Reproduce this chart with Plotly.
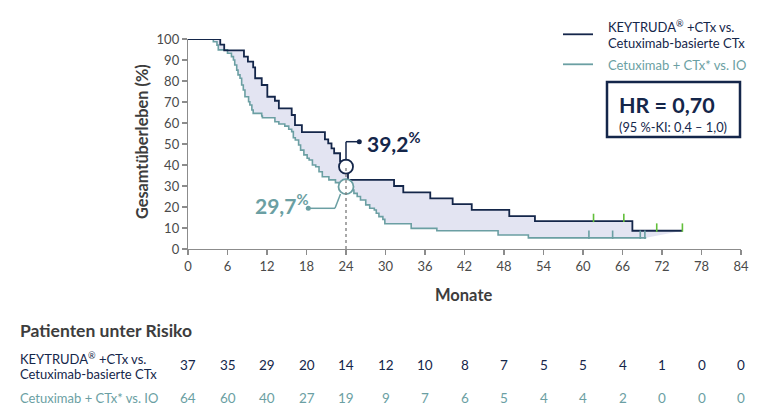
import numpy as np
import plotly.graph_objects as go

# ---------------- data ----------------
months_ticks = list(range(0, 85, 6))
surv_ticks = list(range(0, 101, 10))

keytruda_t = [0, 4.9, 5.5, 8.5, 9.1, 9.9, 10.2, 11.2, 12.05, 13.2, 13.8, 15.75, 16.25,
              17.3, 20.8, 21.3, 21.8, 22.2, 23.1, 23.8, 24.3, 31.3, 32.7, 36.8, 40.2,
              43.1, 48.8, 52.7, 67.5, 75.1]
keytruda_s = [100, 97.3, 94.6, 91.6, 89.2, 86.5, 81.3, 78.1, 72.5, 70.6, 67.0, 63.8, 59.0,
              55.7, 52.2, 50.3, 47.9, 45.6, 41.7, 39.2, 32.9, 30.0, 27.0, 24.1, 21.4,
              18.6, 15.7, 13.3, 8.7, 8.7]

cetux_t = [0, 3.85, 4.4, 4.6, 6.0, 6.6, 6.9, 7.1, 7.4, 7.6, 7.9, 8.15, 8.4, 8.65, 9.2,
           9.4, 9.7, 9.9, 11.2, 11.3, 13.2, 13.8, 14.7, 15.3, 15.75, 16.0, 16.3, 16.8,
           17.1, 17.6, 18.1, 18.4, 18.9, 19.4, 19.9, 20.4, 21.4, 22.4, 23.0, 23.6,
           24.7, 25.2, 25.7, 26.2, 27.0, 27.6, 28.3, 28.6, 29.0, 29.6, 29.9, 33.9,
           37.8, 47.1, 51.7, 69.6]
cetux_s = [100, 98.7, 97.1, 94.8, 93.2, 91.6, 90.0, 87.6, 85.2, 82.9, 81.3, 78.1, 75.7,
           72.5, 70.1, 68.6, 66.2, 64.6, 63.3, 62.5, 60.6, 59.5, 58.5, 57.0, 55.9, 53.0,
           51.9, 49.5, 47.1, 44.8, 43.2, 42.4, 40.0, 39.2, 36.8, 34.4, 32.9, 31.6, 31.0,
           29.7, 28.1, 26.5, 25.0, 23.3, 21.0, 19.4, 18.6, 17.0, 15.4, 14.1, 12.0, 9.8,
           8.7, 6.7, 5.3, 5.3]

keytruda_censor = [61.6, 66.2, 71.2, 75.1]
cetux_censor = [60.9, 64.5, 68.7, 69.4]

landmark_month = 24
keytruda_landmark = 39.2
cetux_landmark = 29.7

risk_keytruda = [37, 35, 29, 20, 14, 12, 10, 8, 7, 5, 5, 4, 1, 0, 0]
risk_cetux = [64, 60, 40, 27, 19, 9, 7, 6, 5, 4, 4, 2, 0, 0, 0]

hr_text = "HR = 0,70"
ci_text = "(95 %-KI: 0,4 – 1,0)"
label_keytruda = ["KEYTRUDA<sup>®</sup> +CTx vs.", "Cetuximab-basierte CTx"]
label_cetux = "Cetuximab + CTx* vs. IO"

# ---------------- style ----------------
NAVY = "#14264a"
TEAL = "#6b9fa3"
FILL = "rgba(226,227,241,0.95)"
GREEN = "#62bf3a"
AXIS = "#8c8c8c"
TXT = "#3d3d3d"
FONT = "Lato"

W, H = 767, 420
L, R, T, B = 188, 741, 39, 249


def px(x):
    return (x - L) / (R - L)


def py(y):
    return (B - y) / (B - T)


def dx(x):
    return (x - L) / (R - L) * 84


def dy(y):
    return (B - y) / (B - T) * 100


def step_at(ts, ss, t):
    i = np.searchsorted(np.array(ts), t, side="right") - 1
    return ss[max(i, 0)]


fig = go.Figure()

# teal curve (base of fill)
fig.add_trace(go.Scatter(x=cetux_t, y=cetux_s, mode="lines", line=dict(color=TEAL, width=1.6, shape="hv"),
                         cliponaxis=False, hoverinfo="skip"))
# navy curve with fill to teal
fig.add_trace(go.Scatter(x=keytruda_t, y=keytruda_s, mode="lines", fill="tonexty", fillcolor=FILL,
                         line=dict(color=NAVY, width=1.8, shape="hv"), cliponaxis=False, hoverinfo="skip"))

# censor marks
fig.add_trace(go.Scatter(x=keytruda_censor,
                         y=[step_at(keytruda_t, keytruda_s, c) + 1.5 for c in keytruda_censor],
                         mode="markers", marker=dict(symbol="line-ns", size=6, line=dict(color=GREEN, width=1.6)),
                         cliponaxis=False, hoverinfo="skip"))
fig.add_trace(go.Scatter(x=cetux_censor,
                         y=[step_at(cetux_t, cetux_s, c) + 1.5 for c in cetux_censor],
                         mode="markers", marker=dict(symbol="line-ns", size=6, line=dict(color=TEAL, width=1.6)),
                         cliponaxis=False, hoverinfo="skip"))

shapes = []
# dashed landmark line
shapes.append(dict(type="line", xref="x", yref="y", x0=landmark_month, x1=landmark_month, y0=0,
                   y1=keytruda_landmark, line=dict(color="#7a7a7a", width=1.3, dash="3px,3px"), layer="above"))
# navy leader
shapes.append(dict(type="line", xref="x", yref="y", x0=landmark_month, x1=landmark_month,
                   y0=keytruda_landmark + 3, y1=dy(141.7), line=dict(color=NAVY, width=1.5), layer="above"))
shapes.append(dict(type="line", xref="x", yref="y", x0=landmark_month, x1=dx(359.3),
                   y0=dy(141.7), y1=dy(141.7), line=dict(color=NAVY, width=1.5), layer="above"))
# teal leader
shapes.append(dict(type="line", xref="x", yref="y", x0=dx(340.5), x1=dx(335), y0=dy(194), y1=dy(208.3),
                   line=dict(color=TEAL, width=1.5), layer="above"))
shapes.append(dict(type="line", xref="x", yref="y", x0=dx(335), x1=dx(308.3), y0=dy(208.3), y1=dy(208.3),
                   line=dict(color=TEAL, width=1.5), layer="above"))

# legend lines
shapes.append(dict(type="line", xref="paper", yref="paper", x0=px(563), x1=px(593), y0=py(34.3), y1=py(34.3),
                   line=dict(color=NAVY, width=1.8)))
shapes.append(dict(type="line", xref="paper", yref="paper", x0=px(563), x1=px(593), y0=py(64.3), y1=py(64.3),
                   line=dict(color=TEAL, width=1.8)))
# HR box
shapes.append(dict(type="rect", xref="paper", yref="paper", x0=px(607), x1=px(740), y0=py(137), y1=py(82),
                   line=dict(color=NAVY, width=2.5), fillcolor="white"))

fig.update_layout(shapes=shapes)

# landmark circles + dots
fig.add_trace(go.Scatter(x=[landmark_month], y=[keytruda_landmark], mode="markers",
                         marker=dict(size=14, color="white", line=dict(color=NAVY, width=1.8)),
                         cliponaxis=False, hoverinfo="skip"))
fig.add_trace(go.Scatter(x=[landmark_month], y=[cetux_landmark], mode="markers",
                         marker=dict(size=15, color="white", line=dict(color=TEAL, width=1.8)),
                         cliponaxis=False, hoverinfo="skip"))
fig.add_trace(go.Scatter(x=[dx(359.3), dx(308.3)], y=[dy(141.7), dy(208.3)], mode="markers",
                         marker=dict(size=5, color=[NAVY, TEAL]), cliponaxis=False, hoverinfo="skip"))

ann = []
ann.append(dict(x=px(365), y=py(142), xref="paper", yref="paper", xanchor="left", yanchor="middle",
                text=f"<b>{str(keytruda_landmark).replace('.', ',')}<sup>%</sup></b>", showarrow=False,
                font=dict(family=FONT, size=21, color=NAVY)))
ann.append(dict(x=px(311), y=py(204), xref="paper", yref="paper", xanchor="right", yanchor="middle",
                text=f"<b>{str(cetux_landmark).replace('.', ',')}<sup>%</sup></b>", showarrow=False,
                font=dict(family=FONT, size=21, color=TEAL)))

# legend text
ann.append(dict(x=px(606), y=py(27), xref="paper", yref="paper", xanchor="left", yanchor="middle",
                text=label_keytruda[0], showarrow=False, font=dict(family=FONT, size=13, color=NAVY)))
ann.append(dict(x=px(606), y=py(43), xref="paper", yref="paper", xanchor="left", yanchor="middle",
                text=label_keytruda[1], showarrow=False, font=dict(family=FONT, size=13, color=NAVY)))
ann.append(dict(x=px(606), y=py(64.5), xref="paper", yref="paper", xanchor="left", yanchor="middle",
                text=label_cetux, showarrow=False, font=dict(family=FONT, size=13, color=TEAL)))
# HR
ann.append(dict(x=px(617), y=py(105), xref="paper", yref="paper", xanchor="left", yanchor="middle",
                text=f"<b>{hr_text}</b>", showarrow=False, font=dict(family=FONT, size=21.5, color=NAVY)))
ann.append(dict(x=px(617), y=py(127.5), xref="paper", yref="paper", xanchor="left", yanchor="middle",
                text=ci_text, showarrow=False, font=dict(family=FONT, size=12.8, color=NAVY)))

# axis titles
ann.append(dict(x=px(141), y=py(142), xref="paper", yref="paper", xanchor="center", yanchor="middle",
                text="<b>Gesamtüberleben (%)</b>", textangle=-90, showarrow=False,
                font=dict(family=FONT, size=16.3, color=TXT)))
ann.append(dict(x=px(463), y=py(295), xref="paper", yref="paper", xanchor="center", yanchor="middle",
                text="<b>Monate</b>", showarrow=False, font=dict(family=FONT, size=16.5, color=TXT)))

# risk table
ann.append(dict(x=px(18), y=py(330), xref="paper", yref="paper", xanchor="left", yanchor="middle",
                text="<b>Patienten unter Risiko</b>", showarrow=False, font=dict(family=FONT, size=17.5, color=TXT)))
ann.append(dict(x=px(18), y=py(358), xref="paper", yref="paper", xanchor="left", yanchor="middle",
                text=label_keytruda[0], showarrow=False, font=dict(family=FONT, size=13, color=NAVY)))
ann.append(dict(x=px(18), y=py(374), xref="paper", yref="paper", xanchor="left", yanchor="middle",
                text=label_keytruda[1], showarrow=False, font=dict(family=FONT, size=13, color=NAVY)))
ann.append(dict(x=px(18), y=py(397.5), xref="paper", yref="paper", xanchor="left", yanchor="middle",
                text=label_cetux, showarrow=False, font=dict(family=FONT, size=13, color=TEAL)))
for m, a, b in zip(months_ticks, risk_keytruda, risk_cetux):
    ann.append(dict(x=m, y=py(364.5), xref="x", yref="paper", xanchor="center", yanchor="middle",
                    text=str(a), showarrow=False, font=dict(family=FONT, size=13.5, color=NAVY)))
    ann.append(dict(x=m, y=py(397.5), xref="x", yref="paper", xanchor="center", yanchor="middle",
                    text=str(b), showarrow=False, font=dict(family=FONT, size=13.5, color=TEAL)))

fig.update_layout(
    annotations=ann,
    width=W, height=H,
    margin=dict(l=L, r=W - R, t=T, b=H - B, pad=0),
    paper_bgcolor="white", plot_bgcolor="white",
    showlegend=False,
    font=dict(family=FONT, color="#4a4a4a"),
    xaxis=dict(range=[0, 84], tickvals=months_ticks, ticktext=[str(v) for v in months_ticks],
               showgrid=False, zeroline=False, showline=True, linecolor=AXIS, linewidth=1.2,
               ticks="outside", ticklen=5, tickcolor=AXIS, tickwidth=1.2,
               tickfont=dict(family=FONT, size=13, color="#4a4a4a"), fixedrange=True),
    yaxis=dict(range=[0, 100], tickvals=surv_ticks, ticktext=[str(v) for v in surv_ticks],
               showgrid=False, zeroline=False, showline=True, linecolor=AXIS, linewidth=1.2,
               ticks="outside", ticklen=5, tickcolor=AXIS, tickwidth=1.2,
               tickfont=dict(family=FONT, size=13, color="#4a4a4a"), fixedrange=True),
)

fig.write_html("out.html", config={"displayModeBar": False, "staticPlot": True},
               post_script="document.body.style.margin='0';document.body.style.overflow='hidden';")
